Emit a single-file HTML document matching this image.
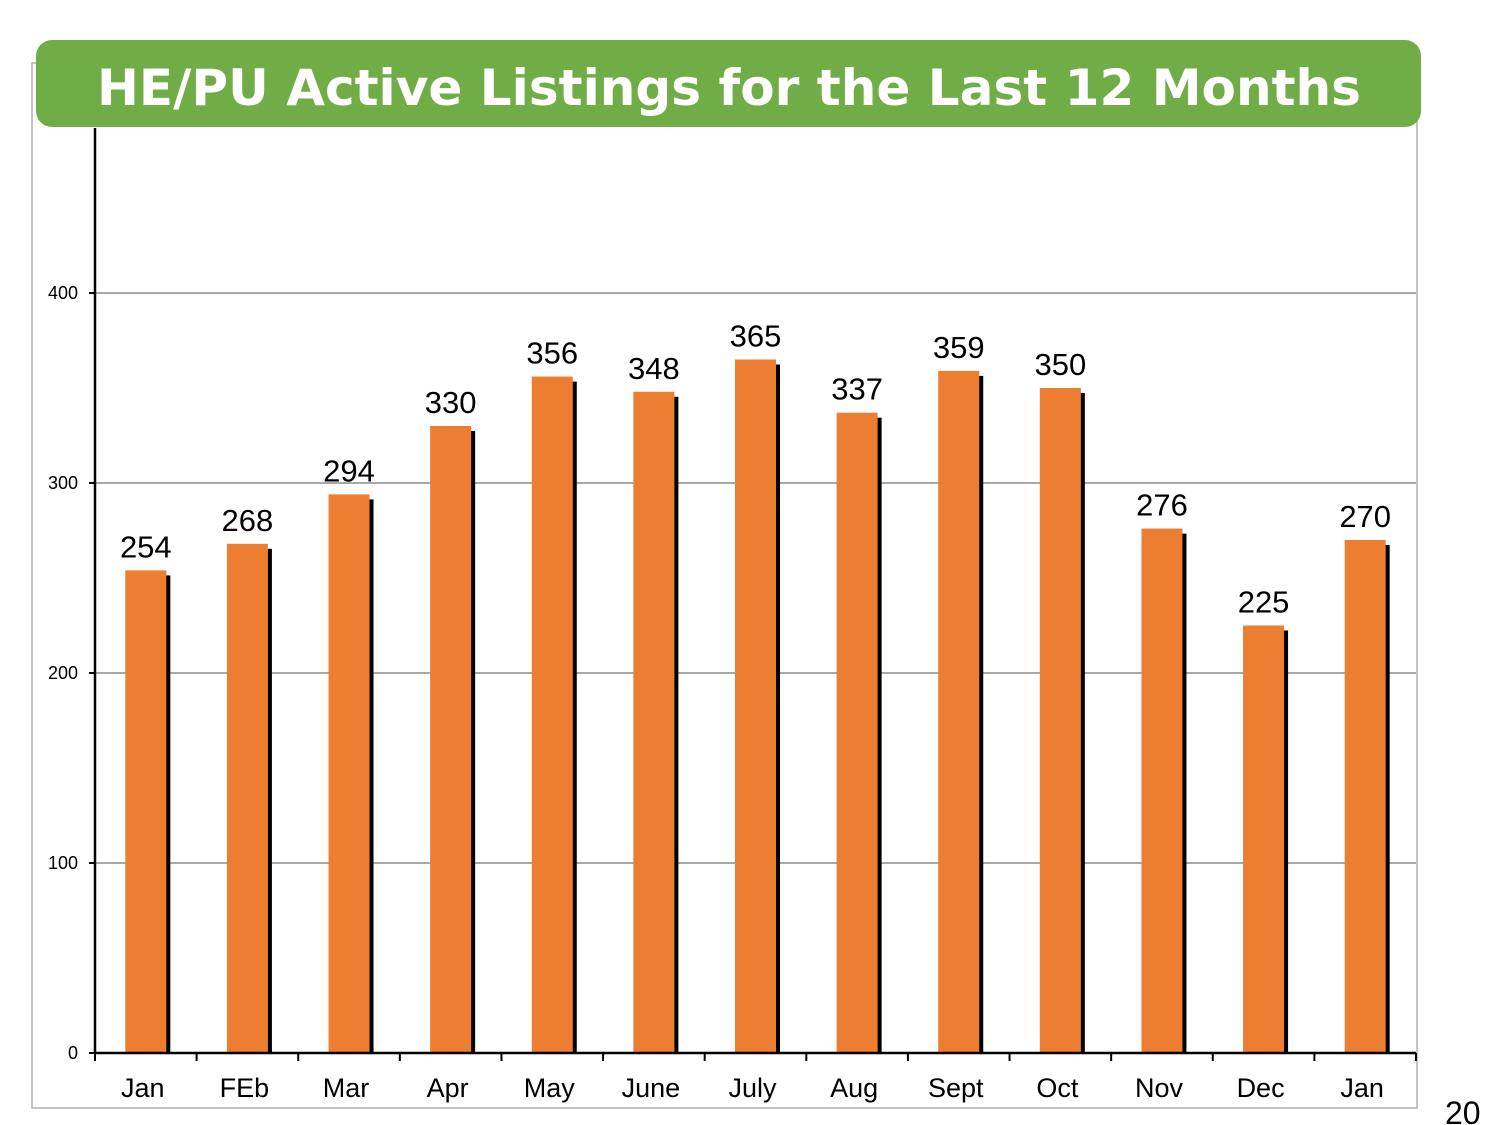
<!DOCTYPE html>
<html><head><meta charset="utf-8"><style>
html,body{margin:0;padding:0;background:#fff;width:1500px;height:1125px;overflow:hidden}
svg{display:block}
text{font-family:"Liberation Sans",Arial,sans-serif}
</style></head><body>
<svg id="chart" width="1500" height="1125" viewBox="0 0 1500 1125">
<rect x="32" y="63" width="1385" height="1045" fill="#fff" stroke="#b0b0b0" stroke-width="1.5"/>
<g id="grid"></g>
<g id="bars"></g>
<g id="axes"></g>
<rect x="36" y="40" width="1385" height="87" rx="16" fill="#70AD47"/>
<text x="729" y="105" text-anchor="middle" font-size="50" font-weight="bold" fill="#fff" textLength="1264" lengthAdjust="spacingAndGlyphs" style="font-family:'DejaVu Sans',sans-serif">HE/PU Active Listings for the Last 12 Months</text>
<text x="1445" y="1124" font-size="32" fill="#000">20</text>
</svg>
<script>
const categories=["Jan","FEb","Mar","Apr","May","June","July","Aug","Sept","Oct","Nov","Dec","Jan"];
const values=[254,268,294,330,356,348,365,337,359,350,276,225,270];
const yTicks=[0,100,200,300,400];
const NS="http://www.w3.org/2000/svg";
const X0=95,X1=1416,Y0=1053,YTOP=128;
const step=(X1-X0)/categories.length;
const y=v=>Y0-v*1.9;
const xc=i=>X0+step*(i+0.5);
function mk(tag,attrs,parent,txt){const e=document.createElementNS(NS,tag);for(const k in attrs)e.setAttribute(k,attrs[k]);if(txt!==undefined)e.textContent=txt;document.getElementById(parent).appendChild(e);return e;}
yTicks.forEach(t=>{
  if(t>0){const g=mk('line',{x1:X0,x2:X1,y1:y(t),y2:y(t),stroke:'#8c8c8c','stroke-width':1.5},'grid');
  
  }
  const tk=mk('line',{x1:X0-6,x2:X0,y1:y(t),y2:y(t),stroke:'#000','stroke-width':2},'axes');
  
  
  const l=mk('text',{x:78,y:y(t)+6,'text-anchor':'end','font-size':18},'axes',String(t));
  
  
});
values.forEach((v,i)=>{
  const bw=41,bx=xc(i)-bw/2;
  const s=mk('rect',{x:bx+4,y:y(v)+5,width:bw,height:Y0-y(v)-5,fill:'#000'},'bars');
  
  
  const b=mk('rect',{x:bx,y:y(v),width:bw,height:Y0-y(v),fill:'#ED7D31'},'bars');
  
  
  const t=mk('text',{x:xc(i),y:y(v)-13,'text-anchor':'middle','font-size':31},'bars',String(v));
  
  
  const c=mk('text',{x:xc(i)-3,y:1097,'text-anchor':'middle','font-size':27},'axes',categories[i]);
  
  
});
for(let i=0;i<=categories.length;i++){
  const tk=mk('line',{x1:X0+step*i,x2:X0+step*i,y1:Y0,y2:Y0+8,stroke:'#000','stroke-width':2},'axes');
  
  
}
const ya=mk('line',{x1:X0,x2:X0,y1:YTOP,y2:Y0,stroke:'#000','stroke-width':2.5},'axes');


const xa=mk('line',{x1:X0,x2:X1,y1:Y0,y2:Y0,stroke:'#000','stroke-width':2.5},'axes');


</script>
</body></html>
